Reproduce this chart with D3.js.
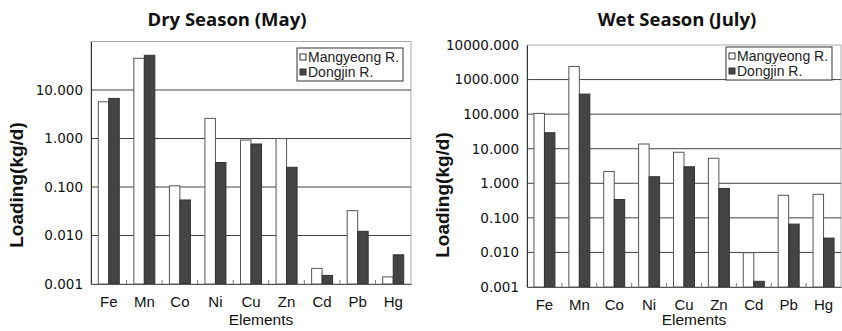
<!DOCTYPE html>
<html>
<head>
<meta charset="utf-8">
<script src="https://cdn.jsdelivr.net/npm/d3@7"></script>
<style>
  body { margin: 0; background: #fff; }
  svg { display: block; font-family: "Liberation Sans", Arial, sans-serif; }
</style>
</head>
<body>
<script>
const elements = ["Fe", "Mn", "Co", "Ni", "Cu", "Zn", "Cd", "Pb", "Hg"];
const seriesNames = ["Mangyeong R.", "Dongjin R."];

// dry season (May)
const dryMangyeong = [5.7, 45, 0.106, 2.6, 0.93, 1.0, 0.0021, 0.0325, 0.0014];
const dryDongjin = [6.7, 52, 0.054, 0.32, 0.77, 0.255, 0.0015, 0.0122, 0.004];
const dryTicks = [0.001, 0.01, 0.1, 1, 10];

// wet season (July)
const wetMangyeong = [105, 2400, 2.2, 13.7, 7.9, 5.3, 0.0098, 0.45, 0.48];
const wetDongjin = [29, 380, 0.34, 1.55, 3.0, 0.71, 0.00146, 0.066, 0.026];
const wetTicks = [0.001, 0.01, 0.1, 1, 10, 100, 1000, 10000];

const w = 842, h = 331;
const svg = d3.select("body").append("svg").attr("width", w).attr("height", h);

function drawChart(opt) {
  const g = svg.append("g");
  const x = d3.scaleBand().domain(elements).range([opt.left, opt.right]);
  const y = d3.scaleLog().domain(opt.domain).range([opt.bottom, opt.top]);

  // title
  g.append("text")
    .attr("x", opt.titleX).attr("y", 26)
    .attr("text-anchor", "middle")
    .style("font-family", "'Open Sans', sans-serif")
    .style("font-weight", "bold").style("font-size", "18.5px")
    .attr("fill", "#111")
    .text(opt.title);

  // plot frame
  g.append("rect")
    .attr("x", opt.left).attr("y", opt.top)
    .attr("width", opt.right - opt.left).attr("height", opt.bottom - opt.top)
    .attr("fill", "none").attr("stroke", "#aaa");

  // gridlines
  g.selectAll(".grid").data(opt.ticks.filter(t => t > opt.domain[0] && t < opt.domain[1]))
    .enter().append("line")
    .attr("x1", opt.left).attr("x2", opt.right)
    .attr("y1", d => y(d)).attr("y2", d => y(d))
    .attr("stroke", "#444").attr("stroke-width", 1);

  // y axis
  const yAxis = d3.axisLeft(y).tickValues(opt.ticks).tickSize(0).tickPadding(8)
    .tickFormat(d => d3.format(".3f")(d));
  const ya = g.append("g").attr("transform", "translate(" + opt.left + ",0)").call(yAxis);
  ya.select(".domain").attr("stroke", "#333");
  ya.selectAll("text").attr("fill", "#111")
    .style("font-family", "'DejaVu Sans', sans-serif").style("font-size", "13.5px");

  // bars
  const inner = d3.scaleBand().domain([0, 1]).range([0, 21]);
  const off = (x.bandwidth() - 21) / 2;
  [opt.a, opt.b].forEach((vals, s) => {
    g.selectAll(".bar" + s).data(vals).enter().append("rect")
      .attr("x", (d, i) => x(elements[i]) + off + inner(s))
      .attr("y", d => y(d))
      .attr("width", inner.bandwidth())
      .attr("height", d => opt.bottom - y(d))
      .attr("fill", s === 0 ? "#fff" : "#444")
      .attr("stroke", s === 0 ? "#555" : "#333")
      .attr("stroke-width", 1);
  });

  // x axis
  const xa = g.append("g").attr("transform", "translate(0," + opt.bottom + ")")
    .call(d3.axisBottom(x).tickSize(0).tickPadding(12));
  xa.select(".domain").attr("stroke", "#555");
  xa.selectAll("text").style("font-size", "15px").attr("fill", "#111");
  g.selectAll(".xt").data(elements.slice(1)).enter().append("line")
    .attr("x1", d => x(d)).attr("x2", d => x(d))
    .attr("y1", opt.bottom - 4).attr("y2", opt.bottom)
    .attr("stroke", "#777");

  g.append("text")
    .attr("x", (opt.left + opt.right) / 2 + opt.elemDx).attr("y", 325)
    .attr("text-anchor", "middle").style("font-size", "15.5px").attr("fill", "#111")
    .text("Elements");

  g.append("text")
    .attr("transform", "translate(" + opt.yLabelX + "," + opt.yLabelY + ") rotate(-90)")
    .attr("text-anchor", "middle")
    .style("font-weight", "bold").style("font-size", "19px").attr("fill", "#111")
    .text("Loading(kg/d)");

  // legend
  const lg = g.append("g").attr("transform", "translate(" + opt.legX + "," + opt.legY + ")");
  lg.append("rect").attr("width", 106).attr("height", 33)
    .attr("fill", "#fff").attr("stroke", "#333");
  seriesNames.forEach((n, i) => {
    lg.append("rect").attr("x", 3).attr("y", 6 + i * 15).attr("width", 6).attr("height", 6)
      .attr("fill", i === 0 ? "#fff" : "#444").attr("stroke", "#333");
    lg.append("text").attr("x", 11).attr("y", 13.5 + i * 15)
      .style("font-size", "14px").attr("fill", "#222").text(n);
  });
}

drawChart({
  title: "Dry Season (May)", titleX: 227,
  left: 91, right: 411, top: 41.5, bottom: 284,
  domain: [0.001, 100], ticks: dryTicks,
  a: dryMangyeong, b: dryDongjin,
  yLabelX: 23, yLabelY: 185, elemDx: 10,
  legX: 297, legY: 48
});

drawChart({
  title: "Wet Season (July)", titleX: 677,
  left: 527, right: 841, top: 45, bottom: 287,
  domain: [0.001, 10000], ticks: wetTicks,
  a: wetMangyeong, b: wetDongjin,
  yLabelX: 449, yLabelY: 195, elemDx: 10,
  legX: 726, legY: 47
});
</script>
</body>
</html>
